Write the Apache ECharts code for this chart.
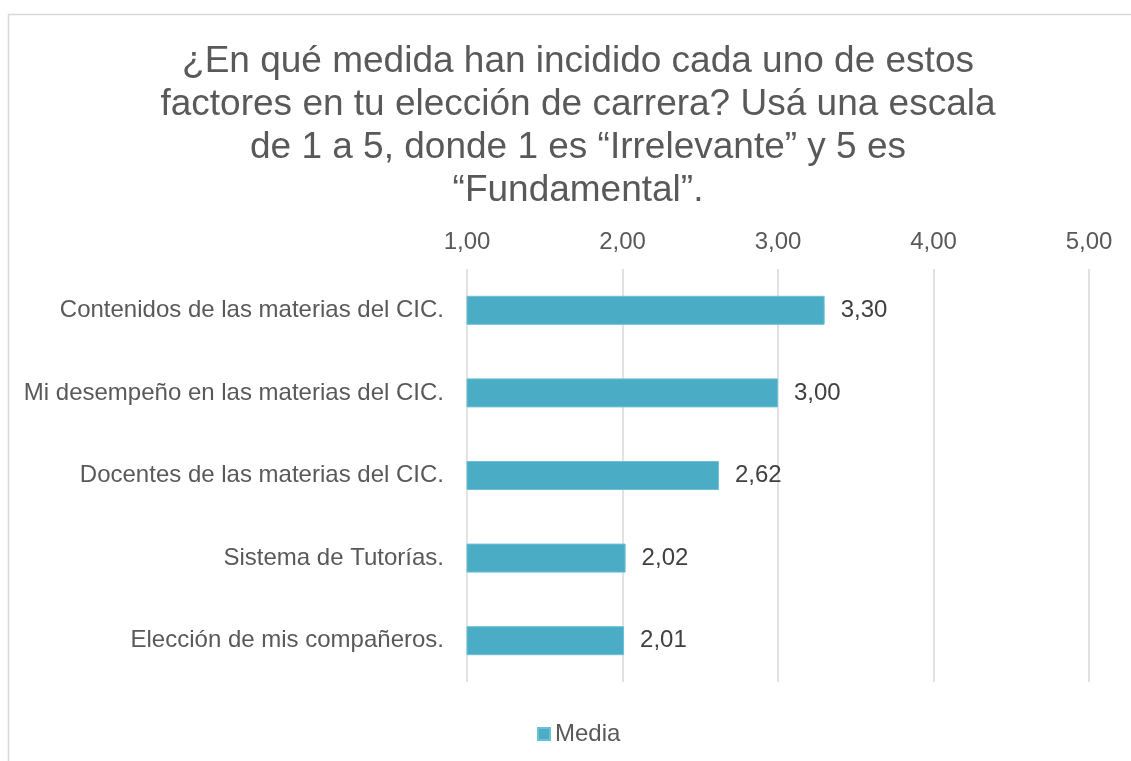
<!DOCTYPE html>
<html><head><meta charset="utf-8">
<script src="https://cdn.jsdelivr.net/npm/echarts@6/dist/echarts.min.js"></script>
<style>html,body{margin:0;padding:0;background:#fff}#c{width:1131px;height:761px}</style>
</head><body><div id="c"></div>
<script>
const titleText = "¿En qué medida han incidido cada uno de estos\nfactores en tu elección de carrera? Usá una escala\nde 1 a 5, donde 1 es “Irrelevante” y 5 es\n“Fundamental”.";
const categories = ["Contenidos de las materias del CIC.","Mi desempeño en las materias del CIC.","Docentes de las materias del CIC.","Sistema de Tutorías.","Elección de mis compañeros."];
const seriesName = "Media";
const values = [3.30, 3.00, 2.62, 2.02, 2.01];
const axisMin = 1, axisMax = 5, axisStep = 1;
const fmt = v => Number(v).toFixed(2).replace('.', ',');
const font = "'Liberation Sans', Arial, sans-serif";
const chart = echarts.init(document.getElementById('c'));
chart.setOption({
  animation: false,
  textStyle: {fontFamily: font},
  graphic: [{type:'rect', shape:{x:8.5,y:14.5,width:1300,height:900}, style:{fill:'none', stroke:'#d9d9d9', lineWidth:1.5}, silent:true}],
  title: {text: titleText, left: 573, top: 35, textAlign: 'center',
    textStyle: {fontFamily: font, fontSize: 37, fontWeight: 'normal', color: '#595959', lineHeight: 43}},
  legend: {bottom: 10, left: 532, icon: 'rect', itemWidth: 12, itemHeight: 12, itemGap: 4,
    textStyle: {fontFamily: font, fontSize: 24, color: '#595959'}, data: [seriesName]},
  grid: {left: 467, right: 42, top: 269, bottom: 79},
  xAxis: {type: 'value', position: 'top', min: axisMin, max: axisMax, interval: axisStep,
    axisLine: {show: false}, axisTick: {show: false},
    axisLabel: {formatter: fmt, fontSize: 24, color: '#595959', margin: 15, fontFamily: font},
    splitLine: {lineStyle: {color: '#d9d9d9', width: 1.5}}},
  yAxis: {type: 'category', inverse: true, data: categories,
    axisLine: {show: false}, axisTick: {show: false},
    axisLabel: {fontSize: 24, color: '#595959', margin: 23, fontFamily: font}},
  series: [{name: seriesName, type: 'bar', data: values, barWidth: 29,
    itemStyle: {color: '#4BACC6', borderColor: '#6cc0d6', borderWidth: 1},
    label: {show: true, position: 'right', distance: 16, formatter: p => fmt(p.value),
      fontSize: 24, color: '#404040', fontFamily: font}}]
});
</script></body></html>
